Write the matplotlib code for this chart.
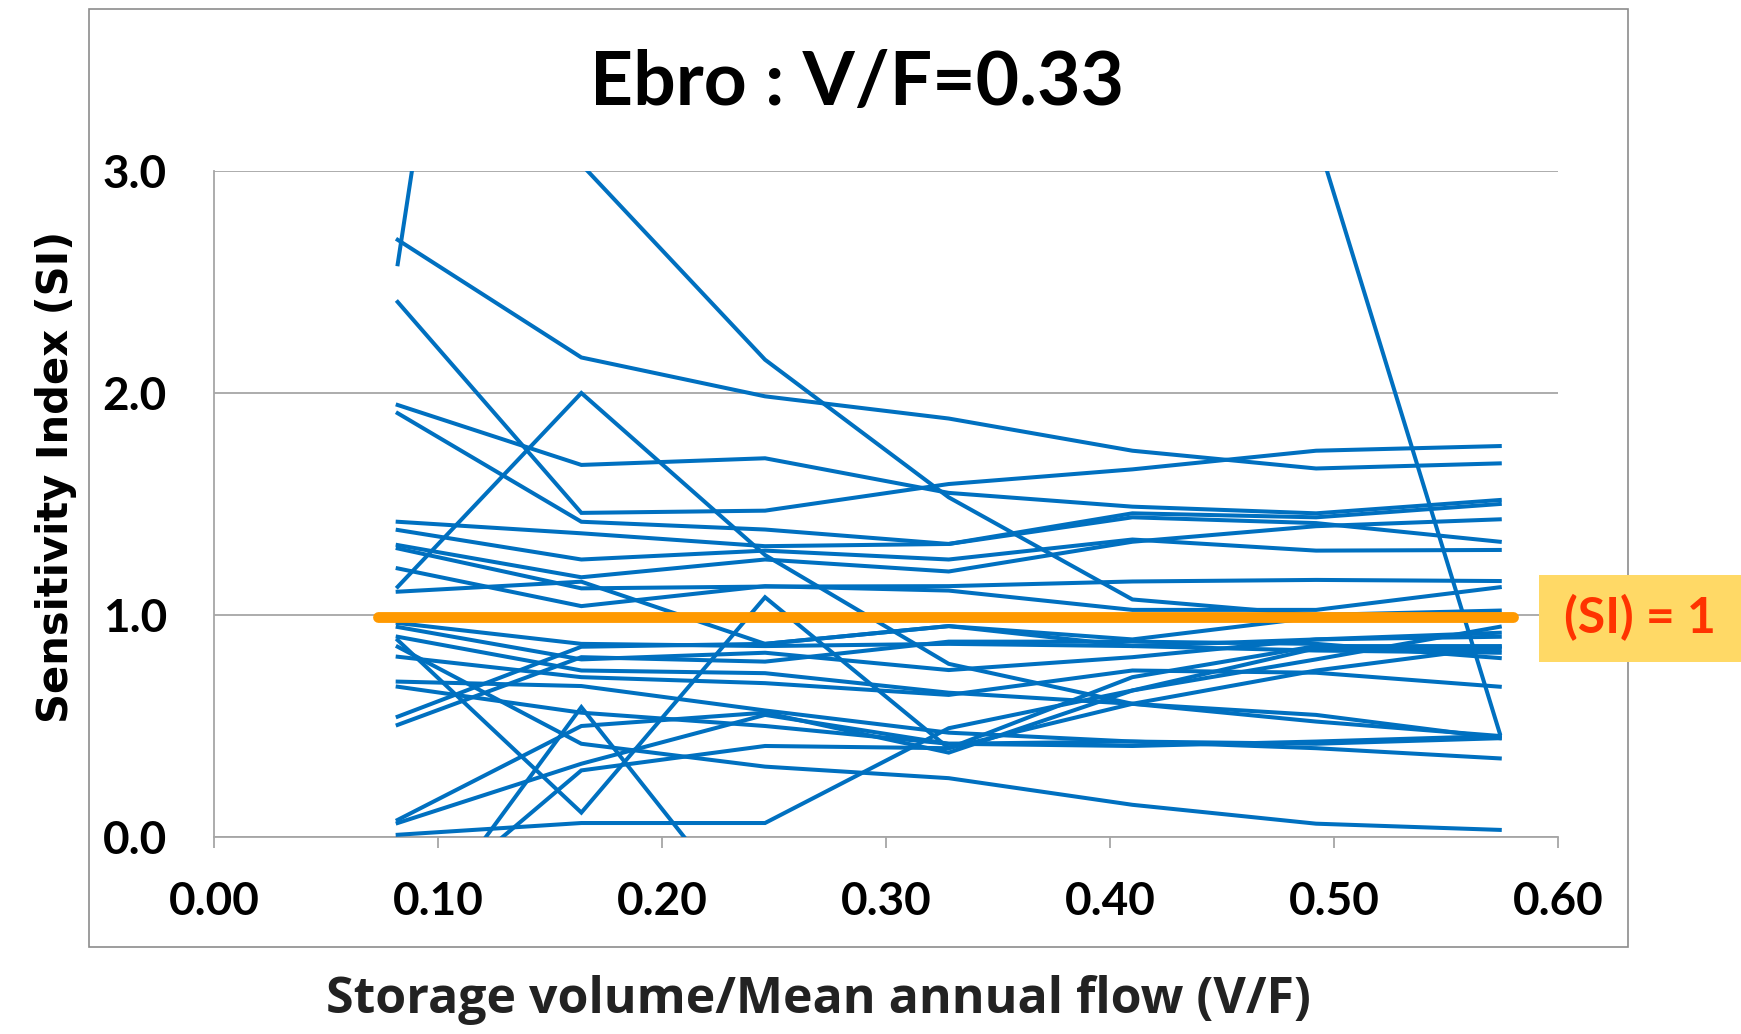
import matplotlib
matplotlib.use("Agg")
import matplotlib.pyplot as plt
from matplotlib.patches import Rectangle

# ---- data -------------------------------------------------------------
vf = [0.082, 0.164, 0.246, 0.328, 0.410, 0.492, 0.574]

si_a = [2.58, 8.0, 8.0, 8.0, 8.0, 8.0, 8.0]
si_b = [2.69, 2.16, 1.985, 1.885, 1.74, 1.66, 1.683]
si_c = [4.2, 3.03, 2.15, 1.53, 1.07, 1.00, 1.02]
si_d = [4.5, 4.5, 4.5, 4.5, 4.5, 3.16, 0.467]
si_e = [2.41, 1.46, 1.47, 1.59, 1.656, 1.74, 1.761]
si_f = [1.946, 1.676, 1.706, 1.55, 1.488, 1.458, 1.518]
si_g = [1.909, 1.42, 1.385, 1.32, 1.458, 1.44, 1.50]
si_h = [1.127, 2.00, 1.27, 0.78, 0.60, 0.52, 0.455]
si_i = [1.42, 1.368, 1.31, 1.32, 1.44, 1.414, 1.33]
si_j = [1.383, 1.25, 1.29, 1.25, 1.34, 1.29, 1.293]
si_k = [1.315, 1.17, 1.25, 1.196, 1.33, 1.40, 1.431]
si_l = [1.30, 1.12, 1.128, 1.13, 1.151, 1.158, 1.153]
si_m = [1.21, 1.04, 1.13, 1.11, 1.023, 1.023, 1.125]
si_n = [1.105, 1.15, 0.87, 0.95, 0.89, 0.99, 0.99]
si_o = [0.964, 0.87, 0.86, 0.87, 0.86, 0.89, 0.92]
si_p = [0.946, 0.80, 0.83, 0.752, 0.81, 0.89, 0.902]
si_q = [0.902, 0.75, 0.738, 0.65, 0.60, 0.55, 0.445]
si_r = [0.887, 0.11, 1.08, 0.40, 0.60, 0.75, 0.857]
si_s = [0.857, 0.42, 0.317, 0.265, 0.145, 0.06, 0.032]
si_t = [0.812, 0.72, 0.693, 0.64, 0.75, 0.74, 0.677]
si_u = [0.70, 0.68, 0.57, 0.47, 0.43, 0.42, 0.445]
si_v = [0.677, 0.56, 0.50, 0.42, 0.41, 0.43, 0.455]
si_w = [0.542, 0.857, 0.87, 0.95, 0.86, 0.84, 0.83]
si_x = [0.505, 0.81, 0.79, 0.88, 0.88, 0.87, 0.806]
si_y = [0.077, 0.50, 0.56, 0.38, 0.66, 0.85, 0.845]
si_z = [0.063, 0.33, 0.55, 0.42, 0.43, 0.40, 0.354]
si_aa = [0.01, 0.063, 0.063, 0.49, 0.66, 0.80, 0.947]
si_ab = [-0.54, 0.585, -0.46, -0.50, -0.50, -0.50, -0.50]
si_ac = [-0.40, 0.30, 0.41, 0.40, 0.72, 0.86, 0.86]

series = [si_a, si_b, si_c, si_d, si_e, si_f, si_g, si_h, si_i, si_j, si_k,
          si_l, si_m, si_n, si_o, si_p, si_q, si_r, si_s, si_t, si_u, si_v,
          si_w, si_x, si_y, si_z, si_aa, si_ab, si_ac]

threshold = 1.0
threshold_span = [0.073, 0.580]
x_ticks = [0.0, 0.1, 0.2, 0.3, 0.4, 0.5, 0.6]
y_ticks = [0.0, 1.0, 2.0, 3.0]

title = "Ebro : V/F=0.33"
xlabel = "Storage volume/Mean annual flow (V/F)"
ylabel = "Sensitivity Index (SI)"
si_label = "(SI) = 1"

# ---- figure -----------------------------------------------------------
W, H = 1741, 1034
fig = plt.figure(figsize=(W / 100, H / 100), dpi=100)
fig.patch.set_facecolor("white")

# outer frame of the chart area
frame = Rectangle((89 / W, 1 - 947 / H), (1628 - 89) / W, (947 - 9) / H,
                  transform=fig.transFigure, facecolor="none",
                  edgecolor="#8c8c8c", lw=1.2, zorder=-1)
fig.patches.append(frame)

ax = fig.add_axes([214 / W, 1 - 837 / H, (1558 - 214) / W, (837 - 171) / H])
ax.set_facecolor("none")

for s in series:
    ax.plot(vf, s, color="#0070C0", lw=2.9, solid_joinstyle="miter", zorder=3)

ax.plot(threshold_span, [threshold * 0.99, threshold * 0.99], color="#FF9900",
        lw=7.8, solid_capstyle="round", zorder=4, clip_on=False)

ax.set_xlim(0, 0.6)
ax.set_ylim(0, 3)
ax.set_xticks(x_ticks)
ax.set_yticks(y_ticks)
ax.set_xticklabels([f"{v:.2f}" for v in x_ticks])
ax.set_yticklabels([f"{v:.1f}" for v in y_ticks])

ax.grid(axis="y", color="#a6a6a6", lw=1.3, zorder=1)
for side in ["top", "right"]:
    ax.spines[side].set_visible(False)
ax.spines["left"].set_color("#a6a6a6")
ax.spines["bottom"].set_color("#a6a6a6")
ax.spines["left"].set_linewidth(1.3)
ax.spines["bottom"].set_linewidth(1.3)

ax.tick_params(axis="x", direction="out", length=8, width=1.3,
               color="#a6a6a6", pad=24)
ax.tick_params(axis="y", length=0, pad=34)
for lab in ax.get_xticklabels() + ax.get_yticklabels():
    lab.set_fontfamily("Lato")
    lab.set_fontweight("bold")
    lab.set_fontsize(33)
    lab.set_color("#000000")

fig.text(857 / W, 1 - 84 / H, title, ha="center", va="center",
         fontsize=54, fontweight="bold", family="Lato", color="#000000")
fig.text(818 / W, 1 - 1000 / H, xlabel, ha="center", va="center",
         fontsize=36, fontweight="bold", family="Open Sans", color="#222222")
fig.text(0.032, 1 - 477 / H, ylabel, ha="center", va="center", rotation=90,
         fontsize=30, fontweight="bold", family="DejaVu Sans", color="#000000")

# label box for the threshold
box = Rectangle((1539 / W, 1 - 662 / H), (1741 - 1539) / W, (662 - 575) / H,
                transform=fig.transFigure, facecolor="#FFD966",
                edgecolor="none", zorder=5)
fig.patches.append(box)
fig.text(1640 / W, 1 - 618 / H, si_label, ha="center", va="center",
         fontsize=36, fontweight="bold", family="Lato", color="#FF3300",
         zorder=6)

fig.savefig("out.png", dpi=100, facecolor="white")
